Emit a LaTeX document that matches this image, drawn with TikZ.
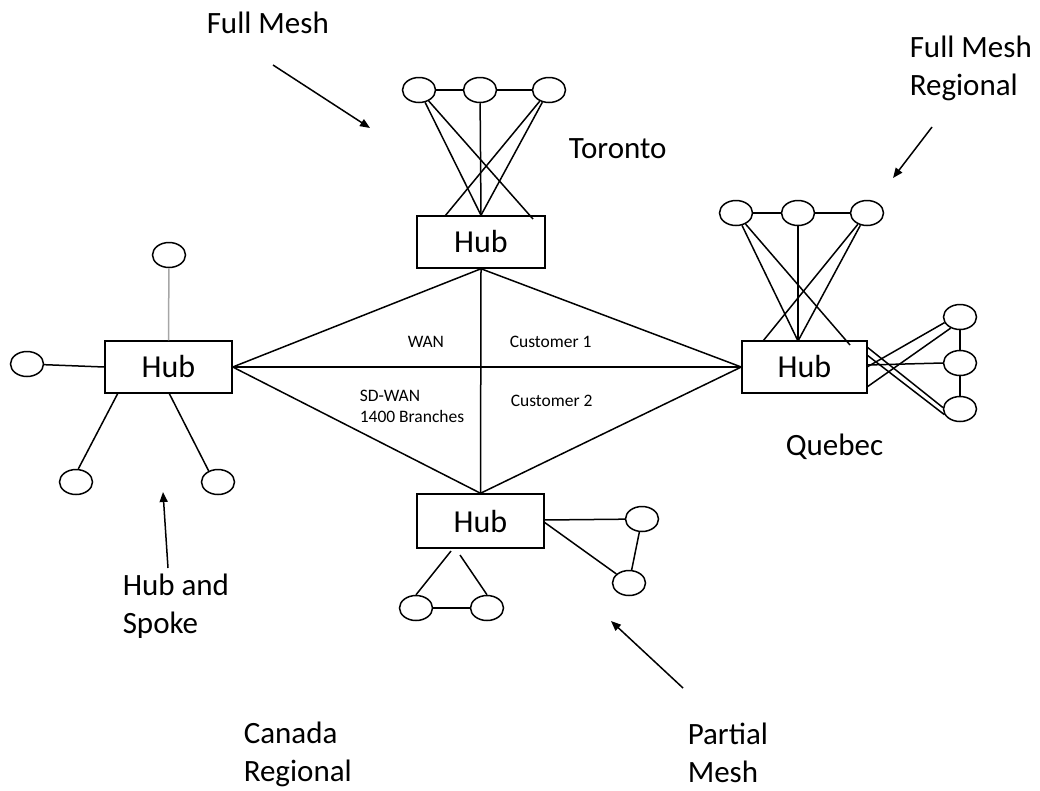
\documentclass[tikz,border=0pt]{standalone}
\usepackage{fontspec}
\setmainfont{Carlito}
\usetikzlibrary{shapes.geometric,arrows.meta}
\begin{document}
\begin{tikzpicture}[x=1pt,y=-1pt,
  every path/.style={line width=1.5pt},
  hubbox/.style={draw, rectangle, inner sep=0pt, font=\fontsize{32}{38}\selectfont},
  site/.style={draw, ellipse, inner sep=0pt, minimum width=33pt, minimum height=25pt},
  biglabel/.style={anchor=base west, inner sep=0pt, align=left, font=\fontsize{31}{38}\selectfont},
  smalllabel/.style={anchor=base west, inner sep=0pt, align=left, font=\fontsize{17.5}{21}\selectfont},
  pointer/.style={-{Triangle[length=10pt,width=8pt]}, line width=1.5pt}]
\useasboundingbox (0,0) rectangle (1040,790);

% hubs
\node[hubbox, minimum width=128pt, minimum height=52pt] (th) at (481,242) {Hub};
\node[hubbox, minimum width=125pt, minimum height=52pt] (rh) at (804.5,367) {Hub};
\node[hubbox, minimum width=127pt, minimum height=52pt] (lh) at (168.5,367) {Hub};
\node[hubbox, minimum width=127pt, minimum height=54pt] (bh) at (480.5,521) {Hub};

% central diamond
\draw (lh.east) -- (th.south) -- (rh.west) -- (bh.north) -- cycle;
\draw (lh.east) -- (rh.west);
\draw (th.south) -- (bh.north);

% centre texts
\node[smalllabel] (wan) at (407,347) {WAN};
\node[smalllabel] (c1) at (509,347) {Customer 1};
\node[smalllabel] (sdwan) at (359,401) {SD-WAN};
\node[smalllabel] (br) at (359,422) {1400 Branches};
\node[smalllabel] (c2) at (510,406) {Customer 2};

% Toronto full mesh
\node[site] (t1) at (419,90) {};
\node[site] (t2) at (480,90) {};
\node[site] (t3) at (549,90) {};
\coordinate (thA) at (445,216);
\coordinate (thC) at (533,219);
\draw (t1) -- (t2) -- (t3);
\draw (t1) -- (th.north);
\draw (t1) -- (thC);
\draw (t2) -- (th.north);
\draw (t3) -- (thA);
\draw (t3) -- (th.north);

% Quebec full mesh regional
\node[site] (r1) at (736,213) {};
\node[site] (r2) at (798,213) {};
\node[site] (r3) at (867,213) {};
\coordinate (rhM) at (798,341);
\coordinate (rhA) at (763,341);
\coordinate (rhC) at (850,345);
\draw (r1) -- (r2) -- (r3);
\draw (r1) -- (rhM);
\draw (r1) -- (rhC);
\draw (r2) -- (rhM);
\draw (r3) -- (rhA);
\draw (r3) -- (rhM);

\node[site] (s1) at (960,317) {};
\node[site] (s2) at (960,363) {};
\node[site] (s3) at (960,409) {};
\coordinate (rhE1) at (867,347);
\coordinate (rhE2) at (867,355);
\coordinate (rhE3) at (867,365);
\coordinate (rhE4) at (867,367);
\coordinate (rhE5) at (867,387);
\draw (s1) -- (s2) -- (s3);
\draw (rhE1) -- (s3.175);
\draw (rhE2) -- (s3.200);
\draw (rhE3) -- (s2.west);
\draw (rhE4) -- (s1.200);
\draw (rhE5) -- (s1.230);

% hub and spoke
\node[site] (lc1) at (169,255) {};
\node[site] (lc2) at (27,364) {};
\node[site] (lc3) at (76,482) {};
\node[site] (lc4) at (218,482) {};
\coordinate (lhB1) at (118,393);
\coordinate (lhB2) at (169,393);
\draw[gray!70] (lc1) -- (lh.north);
\draw (lc2) -- (lh.west);
\draw (lc3.80) -- (lhB1);
\draw (lc4.130) -- (lhB2);

% partial mesh
\node[site] (bc1) at (416,608) {};
\node[site] (bc2) at (487,608) {};
\coordinate (bhB1) at (451,551);
\coordinate (bhB2) at (460,555);
\draw (bhB1) -- (bc1.north);
\draw (bhB2) -- (bc2.north);
\draw (bc1) -- (bc2);
\node[site] (bd1) at (642,519) {};
\node[site] (bd2) at (629,583) {};
\coordinate (bhE1) at (544,520);
\coordinate (bhE2) at (544,522);
\draw (bhE1) -- (bd1);
\draw (bhE2) -- (bd2);
\draw (bd1) -- (bd2);

% labels (multi-line: base = last line)
\node[biglabel] (lfm) at (206,33) {Full Mesh};
\node[biglabel] (lfmr) at (909,95) {Full Mesh\\Regional};
\node[biglabel] (ltor) at (568,158) {Toronto};
\node[biglabel] (lque) at (785,455) {Quebec};
\node[biglabel] (lhs) at (122,633) {Hub and\\Spoke};
\node[biglabel] (lcr) at (243,781) {Canada\\Regional};
\node[biglabel] (lpm) at (687,782) {Partial\\Mesh};

% pointer arrows
\coordinate (a1s) at (273,65);  \coordinate (a1e) at (370,128);
\coordinate (a2s) at (932,127); \coordinate (a2e) at (893,178);
\coordinate (a3s) at (168,568); \coordinate (a3e) at (163,492);
\coordinate (a4s) at (683,688); \coordinate (a4e) at (611,621);
\draw[pointer] (a1s) -- (a1e);
\draw[pointer] (a2s) -- (a2e);
\draw[pointer] (a3s) -- (a3e);
\draw[pointer] (a4s) -- (a4e);
\end{tikzpicture}
\end{document}
